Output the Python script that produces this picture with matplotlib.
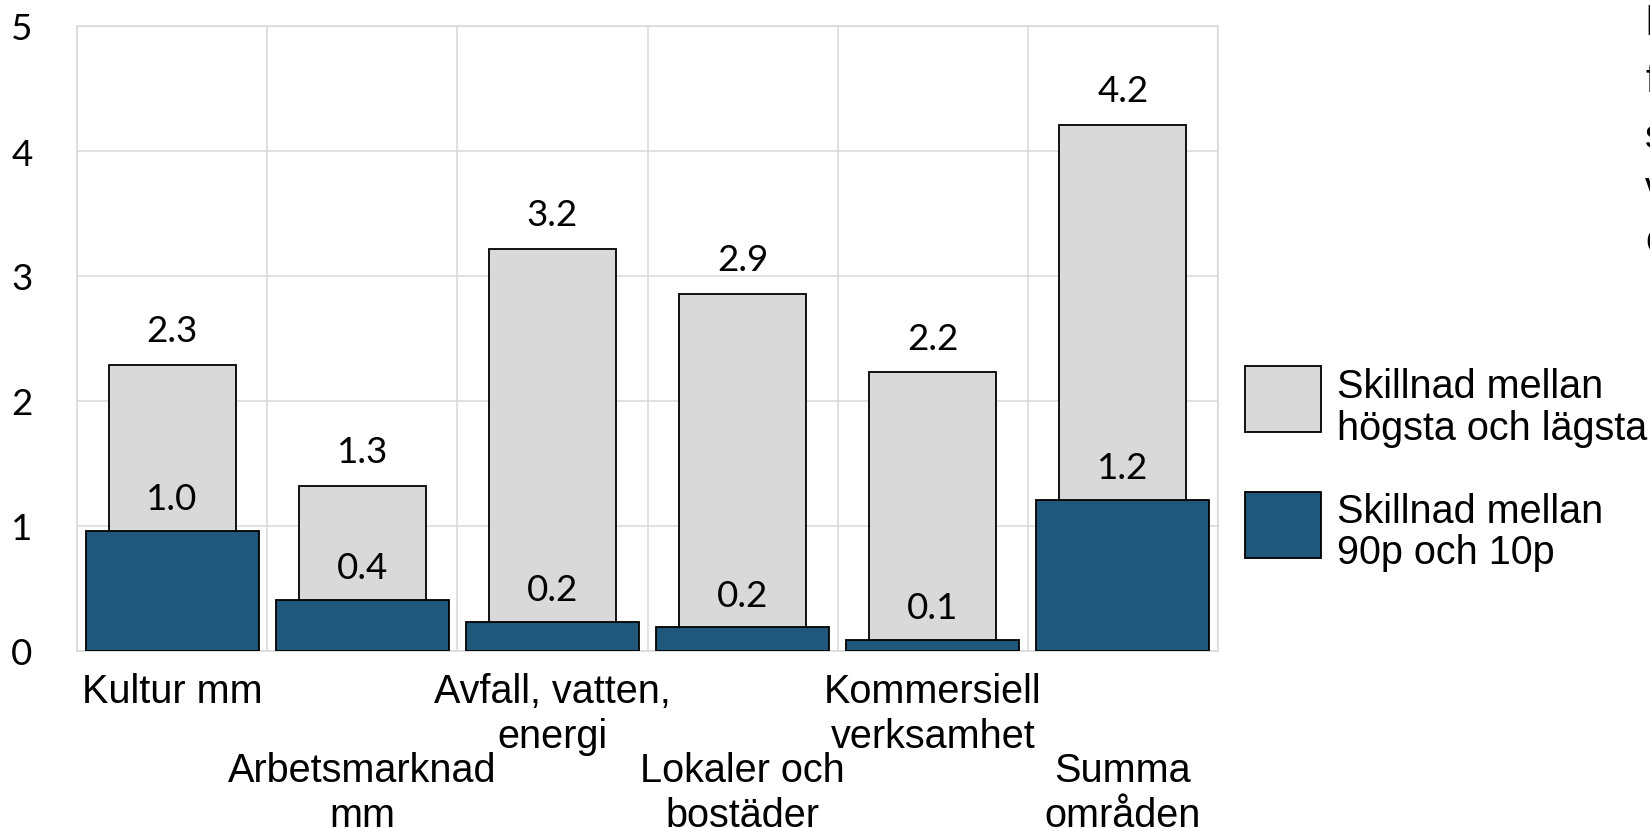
import matplotlib
matplotlib.use("Agg")
import matplotlib.pyplot as plt
from matplotlib.patches import Rectangle
import numpy as np

categories = ["Kultur mm", "Arbetsmarknad\nmm", "Avfall, vatten,\nenergi",
              "Lokaler och\nbostäder", "Kommersiell\nverksamhet", "Summa\nområden"]
max_min = [2.29, 1.32, 3.22, 2.86, 2.23, 4.21]
p90_p10 = [0.96, 0.41, 0.235, 0.19, 0.09, 1.21]
legend_labels = [("Skillnad mellan", "högsta och lägsta"), ("Skillnad mellan", "90p och 10p")]
yticks = [0, 1, 2, 3, 4, 5]

GRAY = "#D9D9D9"
BLUE = "#1F587A"
GRID = "#D9D9D9"
W, H = 1650, 829

fig = plt.figure(figsize=(16.5, 8.29), dpi=100)
ax = fig.add_axes([77 / W, 1 - 652 / H, (1218 - 77) / W, (652 - 27) / H])

x = np.arange(len(categories))
ax.bar(x, max_min, width=0.667, color=GRAY, edgecolor="black", linewidth=1.3, zorder=3)
ax.bar(x, p90_p10, width=0.91, color=BLUE, edgecolor="black", linewidth=1.3, zorder=4)

num_font = dict(family=["Lato", "DejaVu Sans"], fontsize=26.5, color="black")
for xi, v in zip(x, max_min):
    ax.annotate(f"{v:.1f}", (xi, v), xytext=(0, 17), textcoords="offset points",
                ha="center", va="baseline", zorder=5, **num_font)
for xi, v in zip(x, p90_p10):
    ax.annotate(f"{v:.1f}", (xi, v), xytext=(0, 15.5), textcoords="offset points",
                ha="center", va="baseline", zorder=5, **num_font)

ax.set_xlim(-0.5, len(categories) - 0.5)
ax.set_ylim(0, 5)
ax.set_yticks(yticks)
ax.set_yticklabels([str(t) for t in yticks], **num_font)
ax.tick_params(axis="y", length=0, pad=32)
ax.set_xticks(x)
ax.set_xticklabels([])
ax.tick_params(axis="x", length=0)
ax.set_xticks(np.arange(-0.5, len(categories), 1.0), minor=True)
ax.tick_params(axis="x", which="minor", length=0)
ax.grid(axis="y", which="major", color=GRID, linewidth=1.1, zorder=0)
ax.grid(axis="x", which="minor", color=GRID, linewidth=1.1, zorder=0)
for s in ax.spines.values():
    s.set_color(GRID)
    s.set_linewidth(1.1)

lab_font = dict(family=["Liberation Sans", "DejaVu Sans"], fontsize=28.5, color="black")
for i, c in enumerate(categories):
    off = -15 if i % 2 == 0 else -72
    ax.annotate(c, (i, 0), xycoords=("data", "axes fraction"), xytext=(0, off),
                textcoords="offset points", ha="center", va="top",
                linespacing=1.23, annotation_clip=False, **lab_font)

# legend (manual, pixel-based)
def fx(px):
    return px / W

def fy(py):
    return 1 - py / H

cols = [GRAY, BLUE]
boxes = [(367, 433), (493, 559)]
baselines = [(398, 440), (523, 564)]
for col, (t, b), (l1, l2), (b1, b2) in zip(cols, boxes, legend_labels, baselines):
    fig.patches.append(Rectangle((fx(1245), fy(b)), fx(1321) - fx(1245), fy(t) - fy(b),
                                 transform=fig.transFigure, facecolor=col,
                                 edgecolor="black", linewidth=1.3))
    fig.text(fx(1337), fy(b1), l1, ha="left", va="baseline", **lab_font)
    fig.text(fx(1337), fy(b2), l2, ha="left", va="baseline", **lab_font)

# clipped text at the right edge
for ch, yb in zip(["l", "f", "s", "v", "c"], [35, 92, 148, 200, 252]):
    fig.text(fx(1645), fy(yb), ch, ha="left", va="baseline", **lab_font)

fig.savefig("out.png", dpi=100)
